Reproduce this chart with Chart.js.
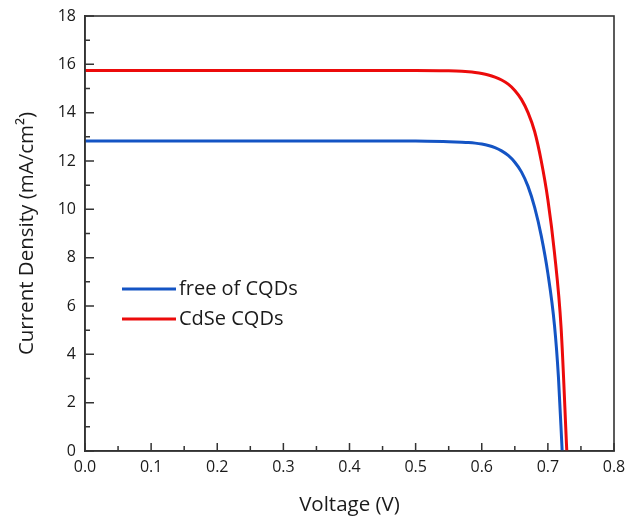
<!DOCTYPE html>
<html>
<head>
<meta charset="utf-8">
<script src="https://cdn.jsdelivr.net/npm/chart.js@4/dist/chart.umd.min.js"></script>
<style>
html,body{margin:0;padding:0;background:#fff;}
#wrap{width:633px;height:517px;}
</style>
</head>
<body>
<div id="wrap"><canvas id="c" width="633" height="517"></canvas></div>
<script>
// Data
const seriesLabels = ['free of CQDs', 'CdSe CQDs'];
const voltageFree = [0, 0.1, 0.2, 0.3, 0.4, 0.5, 0.55, 0.57, 0.58, 0.59, 0.60, 0.61, 0.62, 0.63, 0.64, 0.65, 0.66, 0.67, 0.68, 0.69, 0.70, 0.71, 0.716, 0.7216];
const currentFree = [12.83, 12.83, 12.83, 12.83, 12.83, 12.83, 12.80, 12.78, 12.765, 12.74, 12.70, 12.64, 12.55, 12.42, 12.23, 11.95, 11.55, 10.95, 10.08, 8.9, 7.35, 5.2, 3.05, 0];
const voltageCdSe = [0, 0.1, 0.2, 0.3, 0.4, 0.5, 0.55, 0.57, 0.58, 0.59, 0.60, 0.61, 0.62, 0.63, 0.64, 0.65, 0.66, 0.67, 0.68, 0.69, 0.70, 0.71, 0.72, 0.7286];
const currentCdSe = [15.75, 15.75, 15.75, 15.75, 15.75, 15.75, 15.73, 15.71, 15.69, 15.66, 15.62, 15.56, 15.47, 15.35, 15.18, 14.92, 14.55, 14.0, 13.22, 12.0, 10.4, 8.2, 5.1, 0];
const xTicks = [0, 0.1, 0.2, 0.3, 0.4, 0.5, 0.6, 0.7, 0.8];
const yTicks = [0, 2, 4, 6, 8, 10, 12, 14, 16, 18];
const seriesColors = ['#1454c4', '#ec0b0b'];

const FONT = "'Open Sans', sans-serif";
const AXIS = '#333333';
const TEXT = '#1a1a1a';

function toPoints(xs, ys) { return xs.map((x, i) => ({x: x, y: ys[i]})); }

const frameTicks = {
  id: 'frameTicks',
  afterDatasetsDraw(chart) {
    const ctx = chart.ctx, a = chart.chartArea;
    const xs = chart.scales.x, ys = chart.scales.y;
    ctx.save();
    ctx.strokeStyle = AXIS;
    ctx.lineWidth = 1.6;
    ctx.strokeRect(a.left, a.top, a.right - a.left, a.bottom - a.top);
    ctx.lineWidth = 1.5;
    ctx.beginPath();
    for (let i = 0; i < xTicks.length; i++) {
      const p = xs.getPixelForValue(xTicks[i]);
      ctx.moveTo(p, a.bottom); ctx.lineTo(p, a.bottom - 8);
      if (i < xTicks.length - 1) {
        const m = xs.getPixelForValue((xTicks[i] + xTicks[i + 1]) / 2);
        ctx.moveTo(m, a.bottom); ctx.lineTo(m, a.bottom - 5);
      }
    }
    for (let i = 0; i < yTicks.length; i++) {
      const p = ys.getPixelForValue(yTicks[i]);
      ctx.moveTo(a.left, p); ctx.lineTo(a.left + 9, p);
      if (i < yTicks.length - 1) {
        const m = ys.getPixelForValue((yTicks[i] + yTicks[i + 1]) / 2);
        ctx.moveTo(a.left, m); ctx.lineTo(a.left + 5, m);
      }
    }
    ctx.stroke();
    // legend
    ctx.font = "20px " + FONT;
    ctx.textBaseline = 'middle';
    ctx.fillStyle = TEXT;
    chart.data.datasets.forEach((ds, i) => {
      const y = a.top + 273 + i * 30;
      const x0 = a.left + 37;
      ctx.strokeStyle = ds.borderColor;
      ctx.lineWidth = 3;
      ctx.beginPath(); ctx.moveTo(x0, y); ctx.lineTo(x0 + 54, y); ctx.stroke();
      ctx.fillText(ds.label, x0 + 57, y);
    });
    ctx.restore();
  }
};

new Chart(document.getElementById('c'), {
  type: 'scatter',
  data: {
    datasets: [
      {label: seriesLabels[0], data: toPoints(voltageFree, currentFree), showLine: true, borderColor: seriesColors[0], borderWidth: 3, pointRadius: 0, cubicInterpolationMode: 'monotone', fill: false},
      {label: seriesLabels[1], data: toPoints(voltageCdSe, currentCdSe), showLine: true, borderColor: seriesColors[1], borderWidth: 3, pointRadius: 0, cubicInterpolationMode: 'monotone', fill: false}
    ]
  },
  options: {
    responsive: false,
    animation: false,
    layout: {padding: {top: 16, right: 19, left: 0, bottom: 0}},
    plugins: {legend: {display: false}, tooltip: {enabled: false}},
    scales: {
      x: {
        type: 'linear', min: 0, max: 0.8,
        afterBuildTicks: s => { s.ticks = xTicks.map(v => ({value: v})); },
        ticks: {callback: v => v.toFixed(1), font: {family: FONT, size: 16}, color: TEXT, padding: 3, maxRotation: 0},
        grid: {display: false, drawTicks: true, tickLength: 4},
        border: {display: true, color: AXIS, width: 1.6},
        title: {display: true, text: 'Voltage (V)', font: {family: FONT, size: 20.5}, color: TEXT, padding: {top: 10, bottom: 0}},
        afterFit: s => { s.height = 66; }
      },
      y: {
        type: 'linear', min: 0, max: 18,
        afterBuildTicks: s => { s.ticks = yTicks.map(v => ({value: v})); },
        ticks: {font: {family: FONT, size: 16}, color: TEXT, padding: 5},
        grid: {display: false, drawTicks: true, tickLength: 4},
        border: {display: true, color: AXIS, width: 1.6},
        title: {display: true, text: 'Current Density (mA/cm²)', font: {family: FONT, size: 20.5}, color: TEXT, padding: {top: 15, bottom: 0}},
        afterFit: s => { s.width = 85; }
      }
    }
  },
  plugins: [frameTicks]
});
</script>
</body>
</html>
